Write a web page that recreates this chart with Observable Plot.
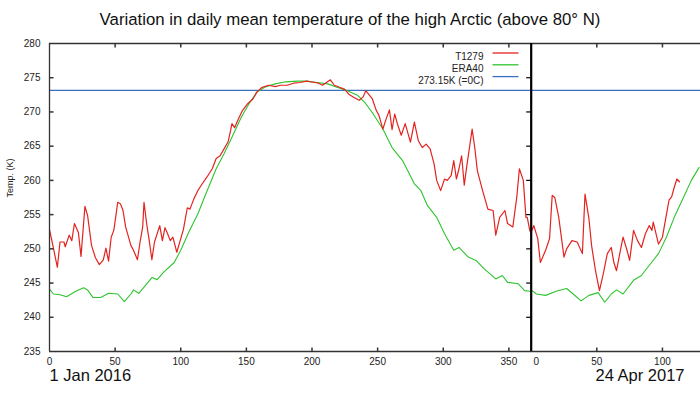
<!DOCTYPE html>
<html><head><meta charset="utf-8">
<script src="https://cdn.jsdelivr.net/npm/d3@7"></script>
<script src="https://cdn.jsdelivr.net/npm/@observablehq/plot@0.6"></script>
<style>
html,body{margin:0;padding:0;background:#fff;}
#title{box-sizing:border-box;height:35px;width:700px;padding-top:10px;text-align:center;font-family:"Liberation Sans",Arial,sans-serif;font-size:16.8px;line-height:20px;color:#111;}
#chart svg{display:block;}
</style></head><body>
<div id="title">Variation in daily mean temperature of the high Arctic (above 80° N)</div>
<div id="chart"></div>
<script>
// ---- data (day of period, temperature K) ----
const t1279_2016 = [[0,252.8],[2,251.0],[6,247.3],[8,251.0],[11,251.0],[12,250.3],[15,252.0],[17,251.2],[19,253.7],[22,252.4],[24,248.9],[27,256.2],[29,254.9],[32,250.5],[35,248.7],[38,247.7],[41,248.4],[43,250.1],[45,248.2],[47,251.7],[49,252.7],[52,256.8],[54,256.6],[56,255.6],[58,253.2],[62,250.5],[64,249.8],[67,248.4],[69,251.0],[71,253.2],[72,256.8],[74,253.7],[76,251.2],[78,248.4],[80,251.0],[84,253.4],[86,251.2],[88,253.1],[90,252.2],[92,251.2],[94,251.7],[97,249.5],[100,251.5],[102,252.8],[105,256.0],[107,255.8],[110,257.3],[113,258.5],[116,259.4],[120,260.5],[124,261.7],[127,263.2],[130,263.6],[133,264.6],[136,265.6],[138,267.3],[139,268.3],[141,267.7],[144,269.0],[147,270.2],[151,271.2],[155,271.9],[158,272.9],[162,273.6],[167,273.9],[172,273.7],[176,273.9],[181,273.9],[186,274.2],[191,274.3],[196,274.5],[202,274.3],[205,274.2],[208,273.9],[211,274.3],[214,274.7],[217,273.9],[221,273.6],[225,273.3],[228,272.6],[232,272.1],[236,271.7],[239,272.2],[241,273.1],[244,272.4],[246,271.9],[249,270.2],[251,269.5],[254,267.5],[256,268.7],[259,270.3],[261,267.4],[263,269.7],[265,268.3],[268,266.6],[271,268.3],[275,265.6],[278,268.5],[281,265.8],[284,264.8],[287,265.3],[290,264.6],[293,262.4],[295,260.0],[298,258.5],[301,260.2],[303,260.0],[306,260.7],[308,262.9],[310,260.2],[312,261.7],[314,263.6],[316,259.3],[318,262.2],[320,264.8],[322,267.5],[324,264.8],[326,261.4],[330,258.5],[334,255.8],[338,255.6],[340,252.0],[343,254.6],[347,255.6],[349,253.7],[353,253.2],[356,257.5],[358,261.7],[361,260.0],[363,254.6],[364,254.6],[366,252.6]];
const era40_2016 = [[0,244.1],[3,243.4],[8,243.3],[13,243.0],[20,243.8],[26,244.3],[29,244.0],[33,242.9],[39,242.9],[45,243.5],[52,243.4],[57,242.3],[62,243.4],[64,244.0],[68,243.5],[72,244.4],[78,245.8],[82,245.5],[87,246.6],[95,248.0],[100,249.8],[106,252.4],[113,255.1],[118,257.5],[127,261.7],[133,263.9],[139,266.3],[146,269.2],[152,271.2],[158,272.9],[165,273.7],[172,274.1],[180,274.4],[189,274.5],[196,274.5],[204,274.3],[212,274.1],[219,273.6],[227,273.1],[235,272.4],[241,271.2],[247,269.6],[254,267.5],[261,264.8],[269,262.9],[278,259.5],[283,258.5],[288,256.3],[295,254.6],[301,252.2],[308,249.8],[312,250.2],[319,248.8],[325,248.3],[331,247.1],[340,245.6],[345,246.1],[349,245.1],[357,244.9],[362,243.9],[366,243.8]];
const t1279_2017 = [[0,252.4],[2,253.4],[5,251.5],[7,248.0],[11,249.8],[14,251.5],[16,257.8],[18,257.5],[21,254.6],[25,248.8],[27,250.0],[31,251.2],[35,251.0],[39,249.3],[41,258.0],[44,254.4],[46,250.5],[49,246.8],[52,243.9],[55,246.4],[58,249.3],[61,250.2],[63,248.0],[65,246.8],[68,249.8],[70,251.7],[73,249.8],[75,248.3],[78,252.7],[81,251.2],[84,250.2],[87,252.2],[90,253.4],[92,252.7],[93,253.9],[97,250.7],[100,251.7],[102,253.9],[105,257.1],[107,257.6],[109,259.0],[111,260.2],[113,259.8]];
const era40_2017 = [[0,244.0],[4,243.4],[11,243.2],[19,243.8],[27,244.2],[32,243.4],[38,242.4],[44,243.2],[51,243.6],[56,242.2],[61,243.4],[65,244.0],[70,243.4],[78,245.4],[84,246.1],[90,247.6],[97,249.3],[103,251.7],[109,254.6],[116,257.5],[122,260.0],[128,261.9]];
const freezingK = 273.15;
const yTicks = [235,240,245,250,255,260,265,270,275,280];
const xTicks2016 = [0,50,100,150,200,250,300,350];
const xTicks2017 = [0,50,100];
const legendLabels = ["T1279","ERA40","273.15K (=0C)"];
const dateLabels = ["1 Jan 2016","24 Apr 2017"];
const yLabel = "Temp. (K)";

// ---- layout ----
const P2 = 367; // where the 2017 panel begins on the shared x scale
const colors = {T1279:"#e3231f", ERA40:"#2fc42f", zero:"#3b6fc0"};
const legendColors = [colors.T1279, colors.ERA40, colors.zero];

const rows = [];
function add(series, panel, pts){ for (const [d,t] of pts) rows.push({series, panel, x: panel===2 ? d+P2 : d, t}); }
add("T1279",1,t1279_2016); add("T1279",2,t1279_2017);
add("ERA40",1,era40_2016); add("ERA40",2,era40_2017);

const xTickPos = [...xTicks2016, ...xTicks2017.map(d=>d+P2)];
const fmtX = d => d >= P2 ? d-P2 : d;
const innerY = yTicks.slice(1,-1);
const innerX = xTickPos.filter(d => d!==0 && d!==P2);
const seg = (dx,dy) => ({draw(ctx){ctx.moveTo(0,0); ctx.lineTo(dx,dy);}});
const frameStroke = "#333";

const legendMarks = legendLabels.flatMap((lab,i) => [
  Plot.text([lab], {frameAnchor:"top-right", textAnchor:"end", dx:-217, dy:9.5+11.8*i, fontSize:10, fill:"#222"}),
  Plot.dot([lab], {frameAnchor:"top-right", dx:-208, dy:9.5+11.8*i, symbol: seg(26,0), fill:"none", stroke: legendColors[i], strokeWidth:1.3})
]);

const chart = Plot.plot({
  width: 700, height: 362,
  marginLeft: 49, marginRight: 0, marginTop: 8, marginBottom: 46,
  style: {fontFamily: "'Liberation Sans', Arial, sans-serif", fontSize: "10px", background: "white", overflow: "visible", color:"#222"},
  x: {domain: [0, 496]},
  y: {domain: [235, 280]},
  marks: [
    Plot.ruleY([freezingK], {stroke: colors.zero, strokeWidth: 1.3}),
    Plot.line(rows.filter(r=>r.series==="ERA40"), {x:"x", y:"t", z:"panel", stroke: colors.ERA40, strokeWidth:1.1}),
    Plot.line(rows.filter(r=>r.series==="T1279"), {x:"x", y:"t", z:"panel", stroke: colors.T1279, strokeWidth:1.2}),
    // frame lines
    Plot.ruleY([280], {stroke: frameStroke, strokeWidth:1.3}),
    Plot.ruleY([235], {stroke: frameStroke, strokeWidth:1.3}),
    Plot.ruleX([0], {stroke: frameStroke, strokeWidth:1.3}),
    Plot.ruleX([P2], {stroke: "#000", strokeWidth:2.2}),
    // inward ticks
    Plot.dot(innerY, {y: d=>d, frameAnchor:"left", symbol: seg(4,0), fill:"none", stroke: frameStroke}),
    Plot.dot(innerY, {x: () => P2, y: d=>d, symbol: seg(-5,0), fill:"none", stroke: "#000", strokeWidth:1.2}),
    Plot.dot(innerX, {x: d=>d, frameAnchor:"top", symbol: seg(0,4), fill:"none", stroke: frameStroke}),
    Plot.dot(innerX, {x: d=>d, frameAnchor:"bottom", symbol: seg(0,-4), fill:"none", stroke: frameStroke}),
    // axes labels
    Plot.axisY({ticks: yTicks, tickSize: 0, tickPadding: 9, label: null, fontSize: 10}),
    Plot.axisX({ticks: xTickPos.filter(d=>d!==P2), tickFormat: fmtX, tickSize: 0, tickPadding: 6, label: null, fontSize: 10}),
    Plot.axisX({ticks: [P2], tickFormat: fmtX, tickSize: 0, tickPadding: 6, label: null, fontSize: 10, dx: 5}),
    Plot.text([yLabel], {frameAnchor:"left", rotate:-90, dx:-39, fontSize:9, fill:"#222"}),
    Plot.text([dateLabels[0]], {frameAnchor:"bottom-left", textAnchor:"start", dy:29, fontSize:16.5, fill:"#111"}),
    Plot.text([dateLabels[1]], {frameAnchor:"bottom-right", textAnchor:"end", dx:-16, dy:29, fontSize:16.5, fill:"#111"}),
    ...legendMarks
  ]
});
document.getElementById("chart").append(chart);
</script></body></html>
